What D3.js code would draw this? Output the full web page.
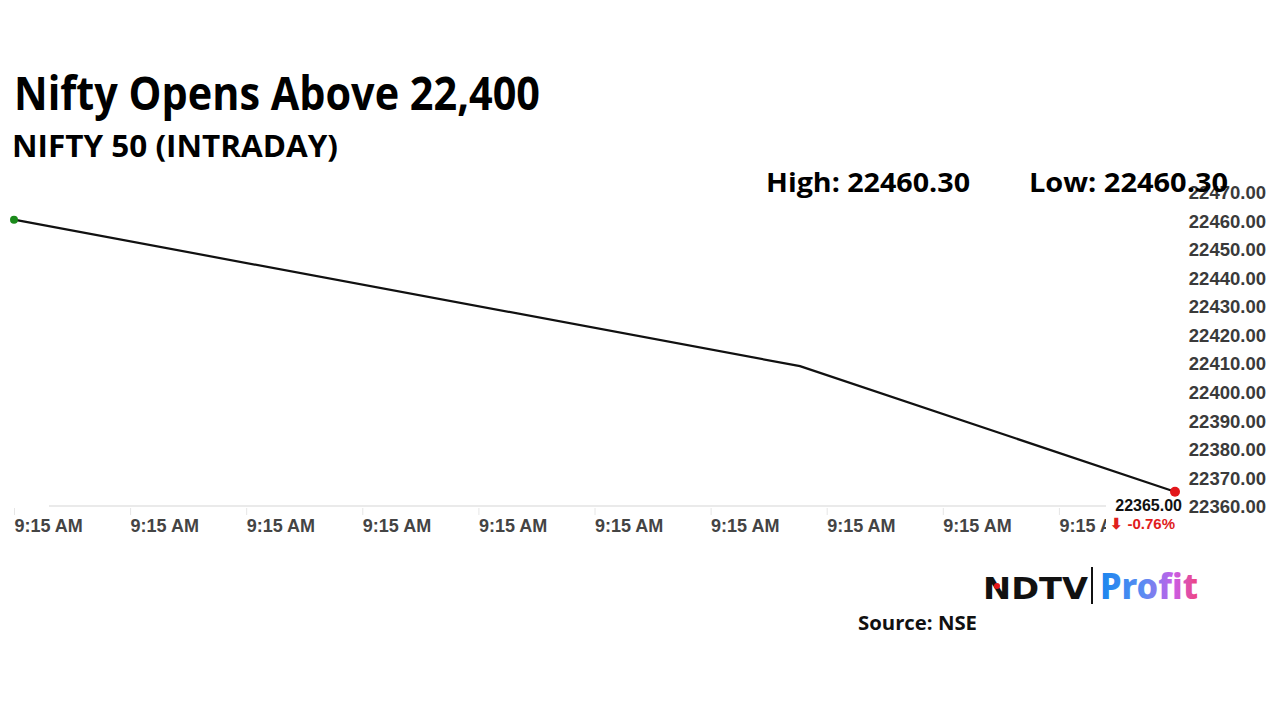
<!DOCTYPE html>
<html><head><meta charset="utf-8">
<script src="https://cdn.jsdelivr.net/npm/d3@7"></script>
<style>
html,body{margin:0;padding:0;background:#fff;}
svg{display:block;}
</style></head>
<body>
<script>
// ---- data ----
const timeIndex = [0, 6.77, 10];
const niftyValues = [22460.30, 22409.0, 22365.00];
const xTickIndex = [0,1,2,3,4,5,6,7,8,9];
const xTickLabels = ["9:15 AM","9:15 AM","9:15 AM","9:15 AM","9:15 AM","9:15 AM","9:15 AM","9:15 AM","9:15 AM","9:15 AM"];
const yTickValues = [22360,22370,22380,22390,22400,22410,22420,22430,22440,22450,22460,22470];
const titleText = "Nifty Opens Above 22,400";
const subtitleText = "NIFTY 50 (INTRADAY)";
const highText = "High: 22460.30";
const lowText = "Low: 22460.30";
const lastText = "22365.00";
const changeText = "-0.76%";
const sourceText = "Source: NSE";

const W = 1280, H = 720;
const svg = d3.select("body").append("svg").attr("width", W).attr("height", H);
svg.append("rect").attr("width", W).attr("height", H).attr("fill", "#fff");

const x = d3.scaleLinear().domain([0, 10]).range([14, 1175]);
const y = d3.scaleLinear().domain([22360, 22470]).range([506, 192]);

const headFont = "'Open Sans', 'Noto Sans', sans-serif";
const axisFont = "'Liberation Sans', Arial, sans-serif";

// titles
svg.append("text").attr("x", 14).attr("y", 110).text(titleText)
  .attr("font-family", headFont).attr("font-weight", 700).attr("font-size", 46)
  .attr("fill", "#000").attr("textLength", 526).attr("lengthAdjust", "spacingAndGlyphs");
svg.append("text").attr("x", 12).attr("y", 157).text(subtitleText)
  .attr("font-family", headFont).attr("font-weight", 700).attr("font-size", 31)
  .attr("fill", "#000").attr("textLength", 326).attr("lengthAdjust", "spacingAndGlyphs");

// baseline
svg.append("line").attr("x1", 49).attr("x2", 1180).attr("y1", 506).attr("y2", 506)
  .attr("stroke", "#e3e3e3").attr("stroke-width", 1.5);

// x axis
const xAxis = d3.axisBottom(x).tickValues(xTickIndex)
  .tickFormat((d, i) => xTickLabels[i]).tickSize(7).tickPadding(5);
const gx = svg.append("g").attr("transform", "translate(0,508)").call(xAxis);
gx.select(".domain").remove();
gx.selectAll(".tick line").attr("stroke", "#e6e6e6");
gx.selectAll(".tick text").attr("text-anchor", "start").attr("x", 0).attr("y", 11)
  .attr("font-family", axisFont).attr("font-weight", 700).attr("font-size", 18).attr("fill", "#444");

// y axis
const yAxis = d3.axisLeft(y).tickValues(yTickValues).tickFormat(d3.format(".2f")).tickSize(0).tickPadding(0);
const gy = svg.append("g").attr("transform", "translate(1266,0)").call(yAxis);
gy.select(".domain").remove();
gy.selectAll(".tick text").attr("font-family", axisFont).attr("font-weight", 700)
  .attr("font-size", 18.5).attr("fill", "#3a3a3a").attr("dy", "0.36em");

// high / low (drawn after y labels so they overlap like reference)
svg.append("text").attr("x", 766).attr("y", 192).text(highText)
  .attr("font-family", headFont).attr("font-weight", 700).attr("font-size", 27)
  .attr("fill", "#000").attr("textLength", 204).attr("lengthAdjust", "spacingAndGlyphs");
svg.append("text").attr("x", 1029).attr("y", 192).text(lowText)
  .attr("font-family", headFont).attr("font-weight", 700).attr("font-size", 27)
  .attr("fill", "#000").attr("textLength", 199).attr("lengthAdjust", "spacingAndGlyphs");

// line
const pts = timeIndex.map((t, i) => [t, niftyValues[i]]);
svg.append("path").datum(pts)
  .attr("d", d3.line().x(d => x(d[0])).y(d => y(d[1])))
  .attr("fill", "none").attr("stroke", "#111").attr("stroke-width", 2.2);

svg.append("circle").attr("cx", x(timeIndex[0])).attr("cy", y(niftyValues[0])).attr("r", 4)
  .attr("fill", "#1a8a1a");

// last value annotation box
const lx = x(timeIndex[timeIndex.length-1]);
svg.append("rect").attr("x", 1106).attr("y", 495).attr("width", 80).attr("height", 38).attr("fill", "#fff");
svg.append("text").attr("x", lx + 7).attr("y", 511).attr("text-anchor", "end").text(lastText)
  .attr("font-family", axisFont).attr("font-weight", 700).attr("font-size", 16).attr("fill", "#111");
svg.append("text").attr("x", lx).attr("y", 529).attr("text-anchor", "end").text("\u2B07 " + changeText)
  .attr("font-family", axisFont).attr("font-weight", 700).attr("font-size", 15).attr("fill", "#e0201c");
svg.append("circle").attr("cx", lx).attr("cy", y(niftyValues[niftyValues.length-1])).attr("r", 5)
  .attr("fill", "#e3161b");

// logo
const logo = svg.append("g");
logo.append("text").attr("x", 983).attr("y", 599).text("NDTV")
  .attr("font-family", "'DejaVu Sans', sans-serif").attr("font-weight", 700).attr("font-size", 30)
  .attr("fill", "#111").attr("textLength", 105).attr("lengthAdjust", "spacingAndGlyphs");
logo.append("circle").attr("cx", 997).attr("cy", 586).attr("r", 3).attr("fill", "#e3161b");
logo.append("line").attr("x1", 1092).attr("x2", 1092).attr("y1", 567).attr("y2", 604)
  .attr("stroke", "#111").attr("stroke-width", 2);
const defs = svg.append("defs");
const grad = defs.append("linearGradient").attr("id", "pg").attr("x1", "0%").attr("x2", "100%");
grad.append("stop").attr("offset", "0%").attr("stop-color", "#1a86ee");
grad.append("stop").attr("offset", "45%").attr("stop-color", "#5c8cf2");
grad.append("stop").attr("offset", "75%").attr("stop-color", "#c85ee8");
grad.append("stop").attr("offset", "100%").attr("stop-color", "#f0447e");
logo.append("text").attr("x", 1100).attr("y", 599).text("Profit")
  .attr("font-family", "'Noto Sans', 'Open Sans', sans-serif").attr("font-weight", 800).attr("font-size", 35)
  .attr("fill", "url(#pg)").attr("textLength", 98).attr("lengthAdjust", "spacingAndGlyphs");

svg.append("text").attr("x", 858).attr("y", 630).text(sourceText)
  .attr("font-family", headFont).attr("font-weight", 700).attr("font-size", 20)
  .attr("fill", "#111").attr("textLength", 119).attr("lengthAdjust", "spacingAndGlyphs");
</script>
</body></html>
